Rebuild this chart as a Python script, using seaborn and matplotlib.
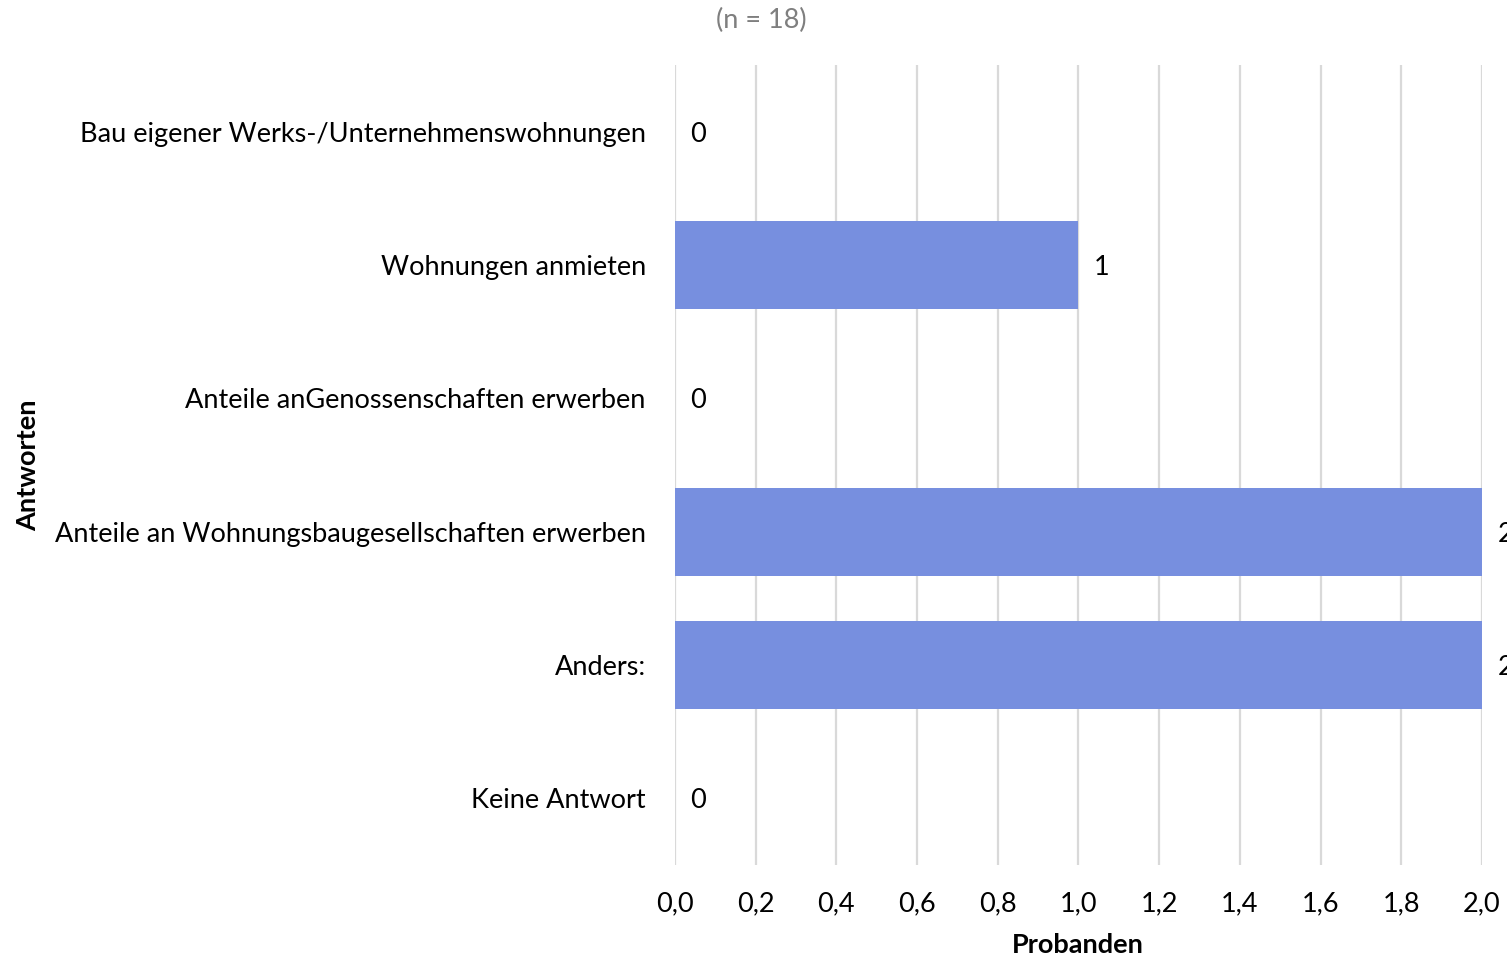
import matplotlib
matplotlib.use("Agg")
import matplotlib.pyplot as plt
import seaborn as sns
import pandas as pd

categories = [
    "Bau eigener Werks-/Unternehmenswohnungen",
    "Wohnungen anmieten",
    "Anteile anGenossenschaften erwerben",
    "Anteile an Wohnungsbaugesellschaften erwerben",
    "Anders:",
    "Keine Antwort",
]
values = [0, 1, 0, 2, 2, 0]
x_ticks = [0.0, 0.2, 0.4, 0.6, 0.8, 1.0, 1.2, 1.4, 1.6, 1.8, 2.0]
x_tick_labels = ["0,0", "0,2", "0,4", "0,6", "0,8", "1,0", "1,2", "1,4", "1,6", "1,8", "2,0"]

sns.set_theme(style="white")
plt.rcParams["font.family"] = ["Lato", "DejaVu Sans"]

df = pd.DataFrame({"Antworten": categories, "Probanden": values})

fig = plt.figure(figsize=(15.07, 9.6), dpi=100)
ax = fig.add_axes([0.4479, 0.0990, 0.5355, 0.8333])

sns.barplot(data=df, x="Probanden", y="Antworten", orient="h",
            color="#778FDF", saturation=1, width=0.66, linewidth=0,
            ax=ax, zorder=3)

ax.set_xlim(0, 2.0)
ax.set_ylim(5.5, -0.5)
ax.set_xticks(x_ticks)
ax.set_xticklabels(x_tick_labels, fontsize=19.5)
ax.tick_params(axis="y", labelsize=19.5, length=0, pad=21)
ax.tick_params(axis="x", length=0, pad=19)
for lbl in ax.get_yticklabels():
    lbl.set_color("black")
for lbl in ax.get_xticklabels():
    lbl.set_color("black")

ax.grid(axis="x", color="#D9D9D9", linewidth=1.6, zorder=0)
ax.grid(axis="y", visible=False)
for s in ax.spines.values():
    s.set_visible(False)

ax.set_xlabel("")
ax.set_ylabel("")

# value labels next to each bar; the ones at 2,0 run past the figure edge
for i, v in enumerate(values):
    ax.annotate(str(v), xy=(v, i), xytext=(11, 0), textcoords="offset points",
                ha="left", va="center_baseline", fontsize=19.5, color="black",
                annotation_clip=False)

fig.text(0.505, 1 - 20 / 960, "(n = 18)", ha="center", va="center",
         fontsize=19.5, color="#7F7F7F")
fig.text(1078 / 1507, 1 - 945 / 960, "Probanden", ha="center", va="center",
         fontsize=19.5, fontweight="bold", color="black")
fig.text(28 / 1507, 1 - 465 / 960, "Antworten", ha="center", va="center",
         rotation=90, fontsize=19.5, fontweight="bold", color="black")

fig.savefig("out.png", dpi=100)
